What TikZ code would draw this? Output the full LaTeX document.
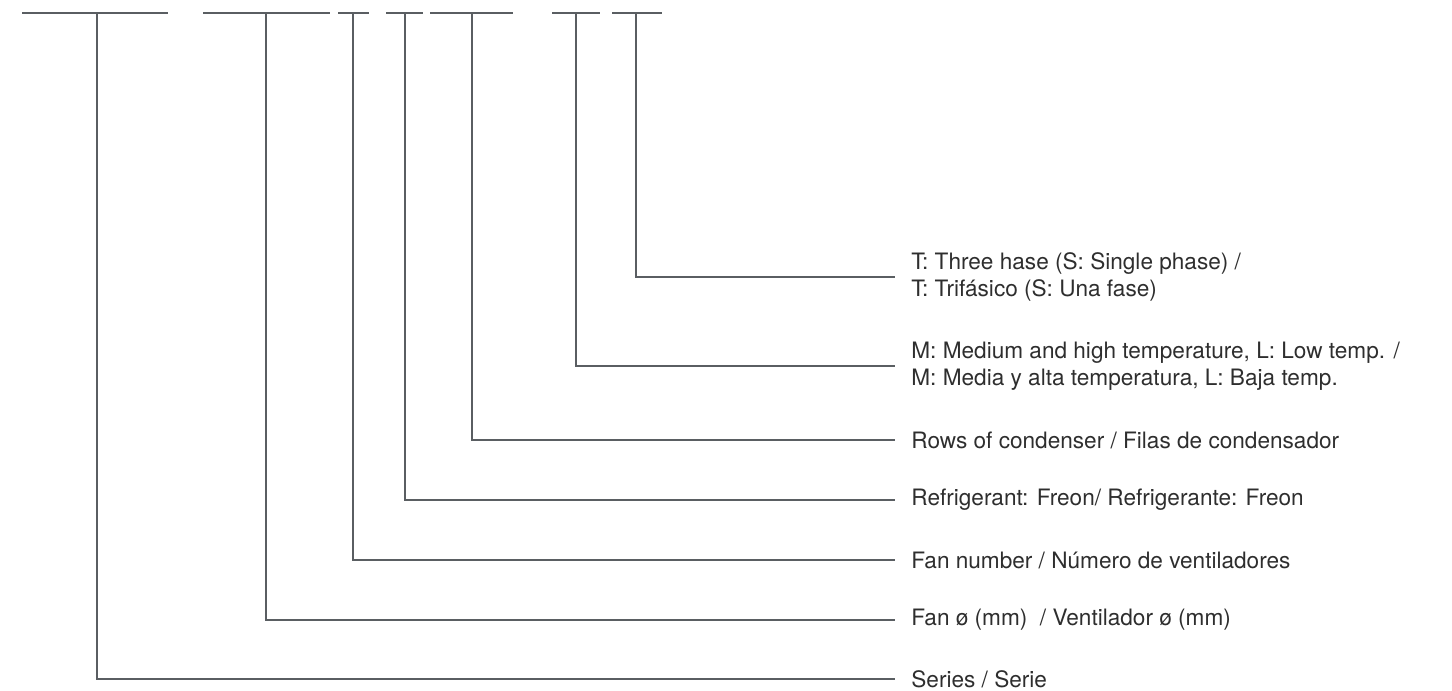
\documentclass[tikz,border=0pt]{standalone}
\usepackage{fontspec}
\setmainfont{TeX Gyre Heros}
\usetikzlibrary{positioning}
\definecolor{linegray}{HTML}{5A5E62}
\definecolor{textgray}{HTML}{2E2E2E}
\tikzstyle{leadline} = [draw=linegray, line width=1.4pt]
\tikzstyle{desc} = [anchor=west, inner xsep=8pt, inner ysep=0pt, text=textgray, align=left, font=\fontsize{11.3}{13.5}\selectfont]

\begin{document}
\begin{tikzpicture}[x=0.5pt, y=-0.5pt]
                \useasboundingbox (0,0) rectangle (1452,691);

                % code bars
                \foreach \a/\b in {22/168, 203/330, 338/369, 386/423, 430/513, 552/600, 612/662}
                    \draw [leadline] (\a,13) -- (\b,13);

                \coordinate (c1) at (97,13);
                \coordinate (c2) at (266,13);
                \coordinate (c3) at (353,13);
                \coordinate (c4) at (405,13);
                \coordinate (c5) at (472,13);
                \coordinate (c6) at (576,13);
                \coordinate (c7) at (636,13);

                \node (series) [desc] at (895,679) {Series / Serie};
                \node (fandia) [desc] at (895,620) {Fan ø (mm)~ / Ventilador ø (mm)};
                \node (fannum) [desc] at (895,560) {Fan number / Número de ventiladores};
                \node (refrig) [desc] at (895,500) {Refrigerant: Freon/ Refrigerante: Freon};
                \node (rows) [desc] at (895,440) {Rows of condenser / Filas de condensador};
                \node (temp) [desc] at (895,366) {M: Medium and high temperature, L: Low temp. /\\M: Media y alta temperatura, L: Baja temp.};
                \node (phase) [desc] at (895,277) {T: Three hase (S: Single phase) /\\T: Trifásico (S: Una fase)};

                \draw [leadline] (c1) |- (series.west);
                \draw [leadline] (c2) |- (fandia.west);
                \draw [leadline] (c3) |- (fannum.west);
                \draw [leadline] (c4) |- (refrig.west);
                \draw [leadline] (c5) |- (rows.west);
                \draw [leadline] (c6) |- (temp.west);
                \draw [leadline] (c7) |- (phase.west);
            \end{tikzpicture}
\end{document}
